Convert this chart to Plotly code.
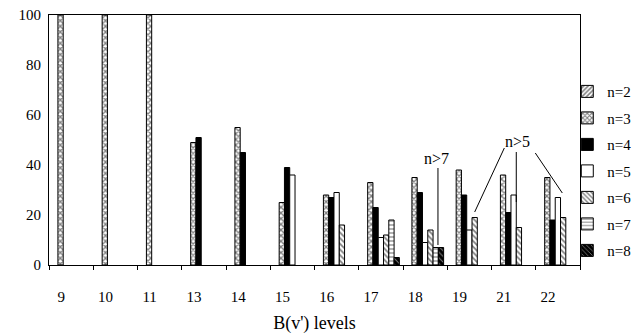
import plotly.graph_objects as go

categories = ["9", "10", "11", "13", "14", "15", "16", "17", "18", "19", "21", "22"]
n2 = [None] * 12
n3 = [100, 100, 100, 49, 55, 25, 28, 33, 35, 38, 36, 35]
n4 = [None, None, None, 51, 45, 39, 27, 23, 29, 28, 21, 18]
n5 = [None, None, None, None, None, 36, 29, 11, 9, 14, 28, 27]
n6 = [None, None, None, None, None, None, 16, 12, 14, 19, 15, 19]
n7 = [None, None, None, None, None, None, None, 18, 7, None, None, None]
n8 = [None, None, None, None, None, None, None, 3, 7, None, None, None]

series = [
    ("n=2", n2, dict(color="white", pattern=dict(shape="/", fgcolor="black", size=4, solidity=0.5))),
    ("n=3", n3, dict(color="white", pattern=dict(shape="x", fgcolor="black", size=4, solidity=0.55))),
    ("n=4", n4, dict(color="black")),
    ("n=5", n5, dict(color="white")),
    ("n=6", n6, dict(color="white", pattern=dict(shape="\\", fgcolor="black", size=4, solidity=0.45))),
    ("n=7", n7, dict(color="white", pattern=dict(shape="-", fgcolor="black", size=4, solidity=0.3))),
    ("n=8", n8, dict(color="black", pattern=dict(shape="\\", fgcolor="white", size=4, solidity=0.25))),
]

fig = go.Figure()
for i, (name, vals, mk) in enumerate(series):
    mk = dict(mk)
    mk["line"] = dict(color="black", width=1)
    fig.add_trace(go.Bar(x=categories, y=vals, name=name, marker=mk, legendgroup=name))

font_family = "Liberation Serif"

# annotation lines (data coordinates: category index, value)
lines = [
    (8.29, 38.8, 8.29, 8.0),
    (9.79, 46.8, 9.12, 21.2),
    (10.06, 45.2, 10.06, 25.2),
    (10.49, 44.8, 11.1, 28.8),
]
for x0, y0, x1, y1 in lines:
    fig.add_shape(type="line", xref="x", yref="y", x0=x0, y0=y0, x1=x1, y1=y1,
                  line=dict(color="black", width=1))

fig.add_annotation(x=8.26, y=42.8, xref="x", yref="y", text="n>7", showarrow=False,
                   font=dict(family=font_family, size=16, color="black"))
fig.add_annotation(x=10.08, y=49.3, xref="x", yref="y", text="n>5", showarrow=False,
                   font=dict(family=font_family, size=16, color="black"))

fig.update_layout(
    width=641, height=334,
    margin=dict(l=49, r=61, t=15, b=69, autoexpand=False),
    paper_bgcolor="white", plot_bgcolor="white",
    barmode="group", bargap=0.164, bargroupgap=0,
    font=dict(family=font_family, size=15, color="black"),
    showlegend=True,
    legend=dict(xref="container", yref="container", x=0.885, y=0.775,
                xanchor="left", yanchor="top", maxheight=1.0,
                traceorder="grouped", tracegroupgap=4,
                font=dict(family=font_family, size=15, color="black"),
                itemwidth=30, bgcolor="rgba(0,0,0,0)"),
    xaxis=dict(
        type="category", showline=True, linecolor="black", linewidth=1, mirror=True,
        ticks="outside", tickson="boundaries", ticklen=4, tickcolor="black",
        ticklabelshift=-10, ticklabelstandoff=18, automargin=False,
        title=dict(text="B(v') levels", font=dict(family=font_family, size=18), standoff=14),
        showgrid=False, zeroline=False,
    ),
    yaxis=dict(
        range=[0, 100], tickvals=[0, 20, 40, 60, 80, 100], automargin=False,
        showline=True, linecolor="black", linewidth=1, mirror=True,
        showgrid=False, zeroline=False, ticks="", ticklabelstandoff=4,
    ),
)

fig.write_html("out.html", config={"displayModeBar": False},
               post_script="document.body.style.margin='0';")
